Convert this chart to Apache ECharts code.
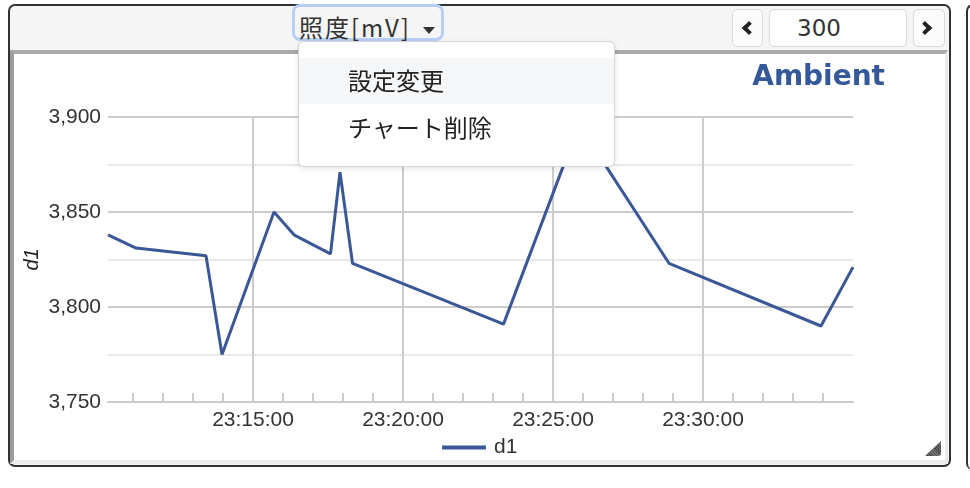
<!DOCTYPE html>
<html>
<head>
<meta charset="utf-8">
<script src="https://cdn.jsdelivr.net/npm/echarts@6/dist/echarts.min.js"></script>
<style>
  html, body { margin: 0; padding: 0; background: #fff; width: 970px; height: 488px; overflow: hidden; }
  body { position: relative; font-family: "Noto Sans CJK JP", "Liberation Sans", sans-serif; color: #333; }
  .abs { position: absolute; box-sizing: border-box; }
  #panel { left: 8px; top: 4px; width: 943px; height: 463px; border: 2px solid #303336; border-radius: 7px; background: #f5f5f5; }
  #plotbox { left: 10px; top: 50px; width: 938px; height: 414px; background: #fff;
    border-top: 4px solid #a9a9a9; border-left: 4px solid #9b9b9b; border-right: 3px solid #ebebeb; border-bottom: 4px solid #eceeee; }
  #nextpanel { left: 966px; top: 4px; width: 20px; height: 466px; border-left: 2px solid #303336; border-top: 2px solid #303336; border-radius: 7px 0 0 7px; }
  #chart { left: 0; top: 0; width: 970px; height: 488px; }
  #titlebtn { left: 292px; top: 4px; width: 152px; height: 37px; border: 3px solid #b7cff6; border-radius: 8px; }
  #titletext { left: 299px; top: 11px; height: 32px; line-height: 32px; font-size: 24px; letter-spacing: 2px; color: #333; white-space: nowrap; }
  #caret { left: 423px; top: 27px; width: 0; height: 0; border-left: 6px solid transparent; border-right: 6px solid transparent; border-top: 7px solid #333; }
  .pbtn { top: 9px; height: 38px; border: 1.5px solid #d9d9d9; border-radius: 5px; background: #fbfbfb; }
  #prev { left: 732px; width: 31px; }
  #next { left: 913px; width: 32px; }
  #pageinput { left: 769px; width: 138px; background: #fff; font-family: "DejaVu Sans", sans-serif; font-size: 23px; line-height: 36px; padding-left: 27px; color: #333; }
  .chev { width: 10px; height: 10px; border-top: 4px solid #222; border-left: 4px solid #222; }
  #chevl { left: 744px; top: 23px; transform: rotate(-45deg); }
  #chevr { left: 920px; top: 23px; transform: rotate(135deg); }
  #menu { left: 298px; top: 41px; width: 317px; height: 126px; background: #fff; border: 1px solid #d4d4d4; border-radius: 6px; box-shadow: 0 2px 6px rgba(0,0,0,0.10); }
  .item { left: 0; width: 315px; height: 46px; line-height: 46px; padding-left: 49px; font-size: 24px; color: #222; white-space: nowrap; }
  #item1 { top: 16px; background: #f5f6f8; line-height: 43px; }
  #item2 { top: 63px; line-height: 44px; }
  #grip { left: 925px; top: 441px; width: 16px; height: 15px; background: repeating-linear-gradient(45deg, #4a4a4a 0 1px, #777 1px 2px); clip-path: polygon(100% 0, 100% 100%, 0 100%); border-radius: 0 0 3px 0; }
</style>
</head>
<body>
<div id="panel" class="abs"></div>
<div id="nextpanel" class="abs"></div>
<div id="plotbox" class="abs"></div>
<div id="titlebtn" class="abs"></div>
<div id="titletext" class="abs">照度[mV]</div>
<div id="caret" class="abs"></div>
<div id="prev" class="abs pbtn"></div>
<div id="chevl" class="abs chev"></div>
<div id="pageinput" class="abs pbtn">300</div>
<div id="next" class="abs pbtn"></div>
<div id="chevr" class="abs chev"></div>
<div id="chart" class="abs"></div>
<div id="grip" class="abs"></div>
<div id="menu" class="abs">
  <div id="item1" class="abs item">設定変更</div>
  <div id="item2" class="abs item">チャート削除</div>
</div>
<script>
// Sensor readings (time of day, millivolts)
const times = ['23:10:10', '23:11:06', '23:13:26', '23:13:58', '23:15:42', '23:16:22', '23:17:35',
               '23:17:54', '23:18:19', '23:23:21', '23:25:52', '23:28:52', '23:33:56', '23:35:00'];
const d1 = [3838, 3831, 3827, 3775, 3850, 3838, 3828, 3871, 3823, 3791, 3896, 3823, 3790, 3821];

// Axis ticks
const xLabelTimes = ['23:15:00', '23:20:00', '23:25:00', '23:30:00'];
const xMinorTimes = ['23:11:00', '23:12:00', '23:13:00', '23:14:00', '23:15:00', '23:16:00', '23:17:00',
                     '23:18:00', '23:19:00', '23:20:00', '23:21:00', '23:22:00', '23:23:00', '23:24:00',
                     '23:25:00', '23:26:00', '23:27:00', '23:28:00', '23:29:00', '23:30:00', '23:31:00',
                     '23:32:00', '23:33:00', '23:34:00'];
const yMin = 3750, yMax = 3900, yStep = 50;

const toSec = t => { const p = t.split(':').map(Number); return p[0] * 3600 + p[1] * 60 + p[2]; };
const pad = n => String(n).padStart(2, '0');
const fmtTime = s => pad(Math.floor(s / 3600)) + ':' + pad(Math.floor(s / 60) % 60) + ':' + pad(s % 60);

const xs = times.map(toSec);
const xMin = xs[0], xMax = xs[xs.length - 1];
const FONT = '"Liberation Sans", Arial, sans-serif';
const LINE = '#3a5897';

const chart = echarts.init(document.getElementById('chart'), null, { renderer: 'canvas' });
chart.setOption({
  backgroundColor: 'transparent',
  animation: false,
  textStyle: { fontFamily: FONT },
  grid: { left: 108, right: 117, top: 117, bottom: 86, containLabel: false, outerBoundsMode: 'none' },
  legend: {
    data: [{ name: 'd1', icon: 'rect' }], left: 437, top: 432, itemWidth: 44, itemHeight: 4, itemGap: 10,
    textStyle: { fontSize: 21, color: '#333', fontFamily: FONT, padding: [0, 0, 0, 3] }
  },
  xAxis: [
    {
      type: 'value', min: xMin, max: xMax,
      axisLine: { show: true, lineStyle: { color: '#cccccc', width: 2 } },
      axisTick: { show: true, inside: true, length: 9, customValues: xMinorTimes.map(toSec),
                  lineStyle: { color: '#cccccc', width: 2 } },
      axisLabel: { customValues: xLabelTimes.map(toSec), formatter: v => fmtTime(v),
                   fontSize: 21, color: '#333', margin: 8, fontFamily: FONT },
      splitLine: { show: false }
    },
    {
      type: 'value', min: xMin, max: xMax, position: 'bottom',
      axisLine: { show: false },
      axisTick: { show: false, customValues: xLabelTimes.map(toSec) },
      axisLabel: { show: false },
      splitLine: { show: true, lineStyle: { color: '#cccccc', width: 2 } }
    }
  ],
  yAxis: {
    type: 'value', min: yMin, max: yMax, interval: yStep,
    axisLine: { show: false }, axisTick: { show: false },
    axisLabel: { formatter: v => v.toLocaleString('en-US'), fontSize: 21, color: '#333', margin: 7, fontFamily: FONT },
    splitLine: { lineStyle: { color: '#cccccc', width: 2 } },
    minorTick: { show: false, splitNumber: 2 },
    minorSplitLine: { show: true, lineStyle: { color: '#e9e9e9', width: 2 } },
    name: 'd1', nameLocation: 'middle', nameGap: 66, nameRotate: 90, nameMoveOverlap: false,
    nameTextStyle: { fontStyle: 'italic', fontSize: 20, color: '#222', fontFamily: FONT }
  },
  graphic: [{
    type: 'text', x: 885, y: 78, z: 10,
    style: { text: 'Ambient', align: 'right', verticalAlign: 'middle',
             font: 'bold 28px "DejaVu Sans", Verdana, sans-serif', fill: '#35589a' }
  }],
  series: [{
    name: 'd1', type: 'line', xAxisIndex: 0,
    data: xs.map((x, i) => [x, d1[i]]),
    symbol: 'none', smooth: false,
    lineStyle: { color: LINE, width: 3 }, itemStyle: { color: LINE }
  }]
});
</script>
</body>
</html>
